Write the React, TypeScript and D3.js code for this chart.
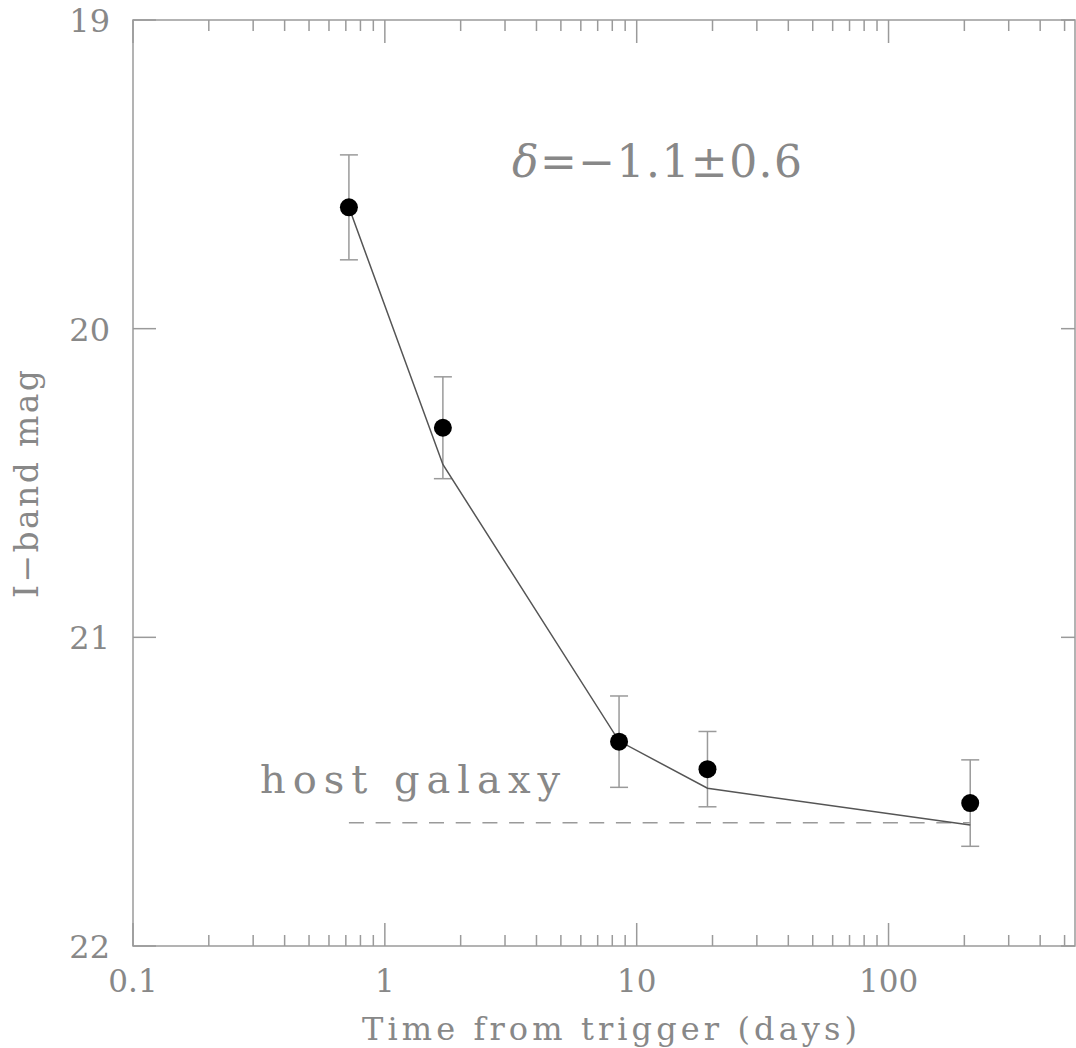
import { useEffect, useRef } from 'react';
import * as d3 from 'd3';

// observations (days since trigger, I mag, 1-sigma error)
const obsTimes = [0.72, 1.70, 8.51, 19.1, 211];
const obsMags = [19.607, 20.321, 21.338, 21.427, 21.537];
const obsErrs = [0.17, 0.165, 0.148, 0.122, 0.14];

// fitted model evaluated at the epochs
const modelMags = [19.607, 20.44, 21.336, 21.489, 21.608];

const hostMag = 21.601;
const hostRange = [0.72, 211];

const xTickValues = [0.1, 1, 10, 100];
const xTickLabels = ['0.1', '1', '10', '100'];
const yTickValues = [19, 20, 21, 22];
const yTickLabels = ['19', '20', '21', '22'];

const fitSymbol = 'δ';
const fitValue = '=−1.1±0.6';

const App = () => {
    const svgRef = useRef<SVGSVGElement | null>(null);

    useEffect(() => {
        if (!svgRef.current) return;
        const svg = d3.select(svgRef.current);
        svg.selectAll('*').remove();

        const W = 1076, H = 1048;
        const left = 133, right = 1075, top = 20, bottom = 946;
        const axisColor = '#9a9a9a';
        const textColor = '#888';
        const font = '"DejaVu Serif", "Liberation Serif", serif';

        svg.attr('width', W).attr('height', H);

        const x = d3.scaleLog().domain([0.1, 550]).range([left, right]);
        const y = d3.scaleLinear().domain([19, 22]).range([top, bottom]);

        // frame
        svg.append('rect')
            .attr('x', left).attr('y', top)
            .attr('width', right - left).attr('height', bottom - top)
            .attr('fill', 'none')
            .attr('stroke', axisColor)
            .attr('stroke-width', 1.5);

        // x ticks, major and minor, bottom and top
        const ticks: { v: number; major: boolean }[] = [];
        for (let e = -1; e <= 2; e++) {
            for (let m = 1; m <= 9; m++) {
                const v = m * Math.pow(10, e);
                if (v <= 550) ticks.push({ v, major: m === 1 });
            }
        }
        const tg = svg.append('g').attr('stroke', axisColor).attr('stroke-width', 1.5);
        ticks.forEach(t => {
            const len = t.major ? 23 : 11;
            const px = x(t.v);
            tg.append('line').attr('x1', px).attr('x2', px).attr('y1', bottom).attr('y2', bottom - len);
            tg.append('line').attr('x1', px).attr('x2', px).attr('y1', top).attr('y2', top + len);
        });
        yTickValues.forEach(v => {
            tg.append('line').attr('x1', left).attr('x2', left + 23).attr('y1', y(v)).attr('y2', y(v));
            tg.append('line').attr('x1', right).attr('x2', right - 14).attr('y1', y(v)).attr('y2', y(v));
        });

        // tick labels
        svg.append('g')
            .selectAll('text')
            .data(xTickValues)
            .enter()
            .append('text')
            .attr('x', d => x(d))
            .attr('y', 992)
            .attr('text-anchor', 'middle')
            .attr('font-family', font)
            .attr('font-size', 31)
            .attr('fill', textColor)
            .text((d, i) => xTickLabels[i]);

        svg.append('g')
            .selectAll('text')
            .data(yTickValues)
            .enter()
            .append('text')
            .attr('x', 110)
            .attr('y', d => y(d) + 12)
            .attr('text-anchor', 'end')
            .attr('font-family', font)
            .attr('font-size', 32)
            .attr('fill', textColor)
            .text((d, i) => yTickLabels[i]);

        // axis titles
        svg.append('text')
            .attr('x', 362).attr('y', 1040)
            .attr('font-family', font).attr('font-size', 32)
            .attr('fill', textColor)
            .attr('textLength', 495).attr('lengthAdjust', 'spacing')
            .text('Time from trigger (days)');

        svg.append('text')
            .attr('transform', 'translate(38,598) rotate(-90)')
            .attr('font-family', font).attr('font-size', 33)
            .attr('fill', textColor)
            .attr('textLength', 228).attr('lengthAdjust', 'spacing')
            .text('I−band mag');

        // host galaxy level
        svg.append('line')
            .attr('x1', x(hostRange[0])).attr('x2', x(hostRange[1]))
            .attr('y1', y(hostMag)).attr('y2', y(hostMag))
            .attr('stroke', axisColor)
            .attr('stroke-width', 1.5)
            .attr('stroke-dasharray', '15,11.7');

        svg.append('text')
            .attr('x', 260).attr('y', 793)
            .attr('font-family', font).attr('font-size', 40)
            .attr('fill', textColor)
            .attr('textLength', 300).attr('lengthAdjust', 'spacing')
            .text('host galaxy');

        // fit result, italic delta
        const fit = svg.append('text')
            .attr('x', 512).attr('y', 177)
            .attr('font-family', font).attr('font-size', 44)
            .attr('fill', textColor)
            .attr('textLength', 290).attr('lengthAdjust', 'spacing');
        fit.append('tspan').attr('font-style', 'italic').text(fitSymbol);
        fit.append('tspan').text(fitValue);

        // error bars
        const eg = svg.append('g').attr('stroke', axisColor).attr('stroke-width', 1.5);
        obsTimes.forEach((t, i) => {
            const px = x(t);
            const y1 = y(obsMags[i] - obsErrs[i]);
            const y2 = y(obsMags[i] + obsErrs[i]);
            eg.append('line').attr('x1', px).attr('x2', px).attr('y1', y1).attr('y2', y2);
            eg.append('line').attr('x1', px - 9).attr('x2', px + 9).attr('y1', y1).attr('y2', y1);
            eg.append('line').attr('x1', px - 9).attr('x2', px + 9).attr('y1', y2).attr('y2', y2);
        });

        // model curve
        const line = d3.line<number>()
            .x((d, i) => x(obsTimes[i]))
            .y(d => y(d));
        svg.append('path')
            .attr('d', line(modelMags))
            .attr('fill', 'none')
            .attr('stroke', '#555')
            .attr('stroke-width', 1.5);

        // data points
        svg.append('g')
            .selectAll('circle')
            .data(obsTimes)
            .enter()
            .append('circle')
            .attr('cx', d => x(d))
            .attr('cy', (d, i) => y(obsMags[i]))
            .attr('r', 9)
            .attr('fill', '#000');
    }, []);

    return (
        <div style={{ position: 'absolute', left: 0, top: 0, background: '#fff' }}>
            <svg ref={svgRef} style={{ display: 'block' }}></svg>
        </div>
    );
};

export default App;
